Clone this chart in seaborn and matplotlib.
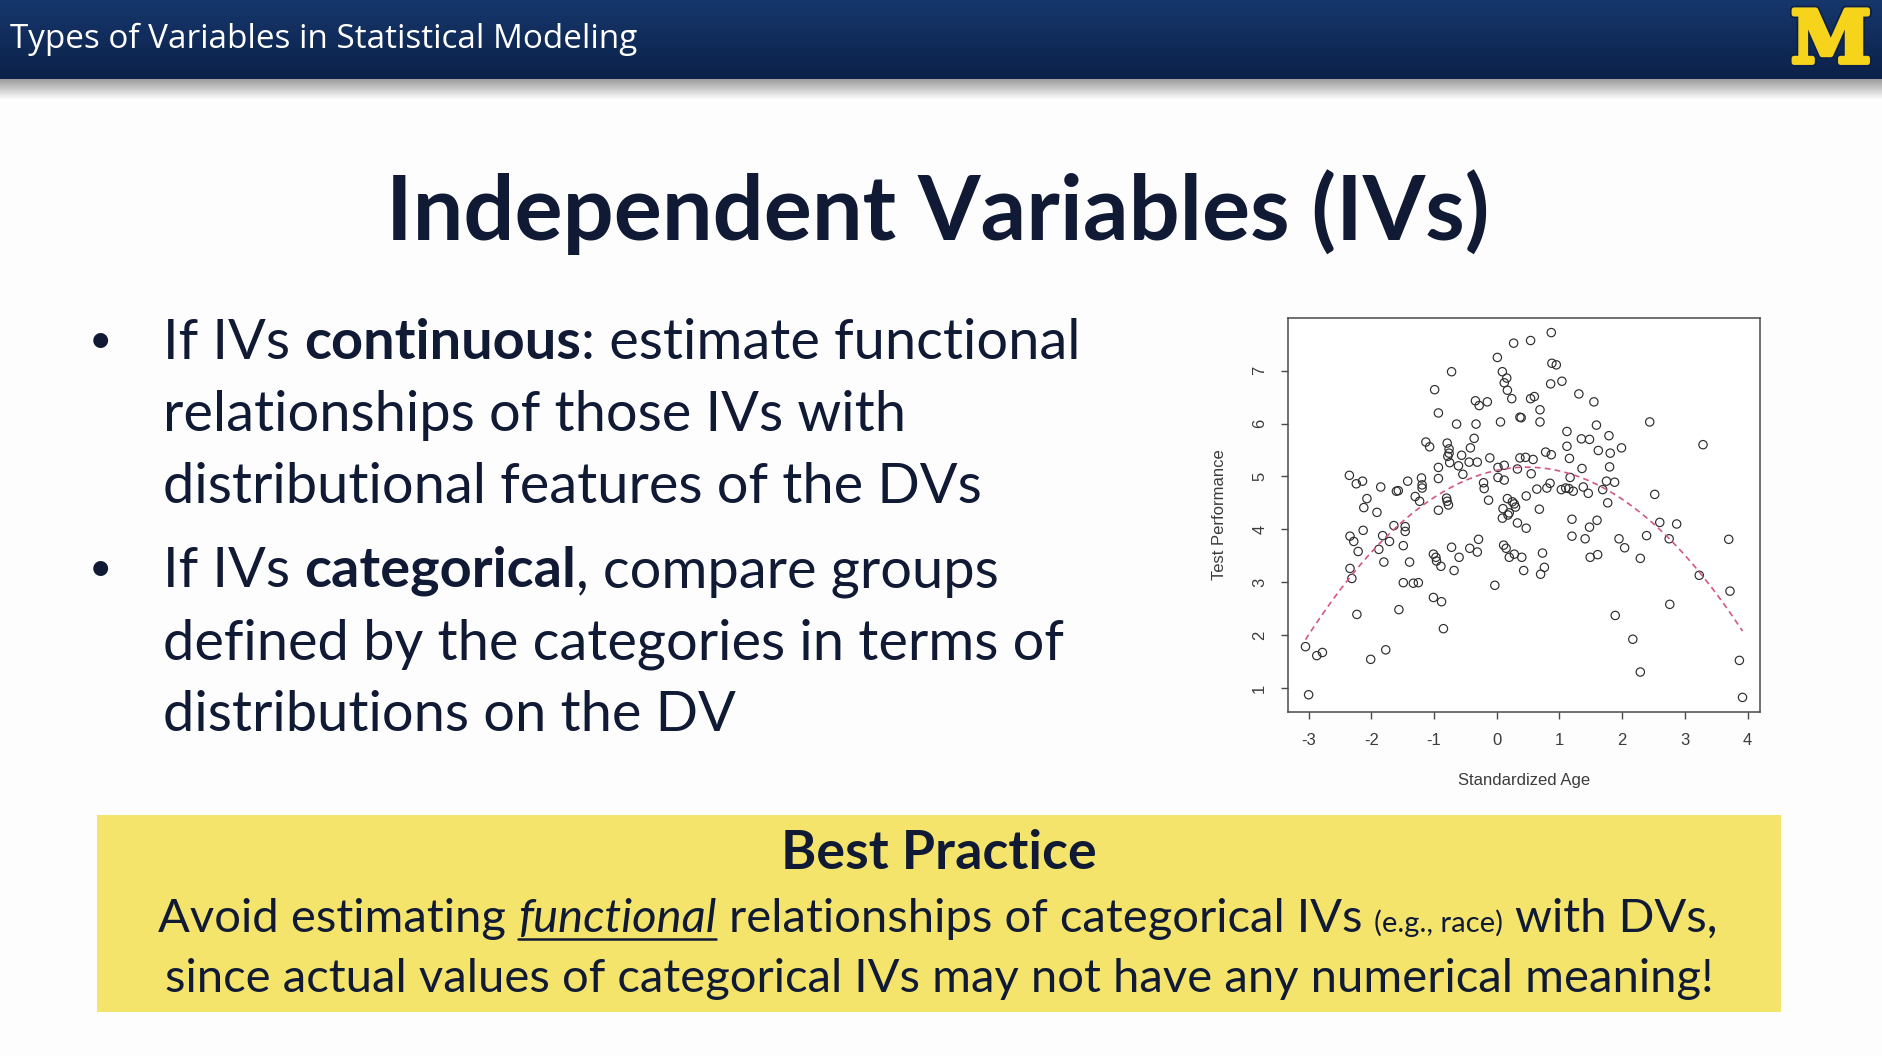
import numpy as np
import pandas as pd
import matplotlib
matplotlib.use("Agg")
import matplotlib.pyplot as plt
import matplotlib.patheffects as pe
from matplotlib.colors import to_rgb
from matplotlib.patches import Rectangle
import seaborn as sns

# 산점도 값
age = [-3.05, -3.00, -2.87, -2.78, -2.35, -2.34, -2.34, -2.31, -2.28, -2.24,
       -2.23, -2.21, -2.14, -2.13, -2.12, -2.07, -2.01, -1.91, -1.88, -1.85,
       -1.82, -1.80, -1.77, -1.71, -1.64, -1.60, -1.57, -1.56, -1.49, -1.49,
       -1.46, -1.46, -1.42, -1.39, -1.33, -1.30, -1.25, -1.23, -1.20, -1.19,
       -1.19, -1.13, -1.07, -1.01, -1.01, -0.99, -0.97, -0.96, -0.93, -0.93,
       -0.93, -0.93, -0.89, -0.88, -0.85, -0.80, -0.79, -0.79, -0.78, -0.77,
       -0.76, -0.76, -0.75, -0.72, -0.72, -0.68, -0.64, -0.61, -0.60, -0.56,
       -0.54, -0.44, -0.43, -0.42, -0.36, -0.34, -0.33, -0.31, -0.31, -0.29,
       -0.28, -0.21, -0.20, -0.15, -0.13, -0.11, -0.03, 0.01, 0.02, 0.02,
       0.06, 0.09, 0.09, 0.10, 0.11, 0.12, 0.12, 0.12, 0.15, 0.16,
       0.17, 0.17, 0.18, 0.20, 0.20, 0.24, 0.25, 0.27, 0.28, 0.28,
       0.30, 0.33, 0.33, 0.37, 0.39, 0.37, 0.40, 0.43, 0.46, 0.47,
       0.47, 0.54, 0.54, 0.55, 0.58, 0.60, 0.64, 0.68, 0.69, 0.69,
       0.70, 0.73, 0.76, 0.78, 0.80, 0.85, 0.86, 0.87, 0.87, 0.88,
       0.95, 1.04, 1.03, 1.10, 1.12, 1.12, 1.15, 1.16, 1.17, 1.20,
       1.20, 1.22, 1.31, 1.35, 1.36, 1.38, 1.41, 1.46, 1.48, 1.48,
       1.49, 1.55, 1.59, 1.60, 1.61, 1.62, 1.69, 1.75, 1.77, 1.79,
       1.80, 1.81, 1.88, 1.89, 1.95, 1.99, 2.04, 2.17, 2.29, 2.29,
       2.39, 2.44, 2.52, 2.60, 2.75, 2.76, 2.87, 3.23, 3.29, 3.70,
       3.72, 3.87, 3.92]
perf = [1.78, 0.87, 1.61, 1.67, 5.02, 3.87, 3.26, 3.07, 3.77, 4.86,
        2.39, 3.58, 4.91, 3.98, 4.41, 4.58, 1.54, 4.32, 3.62, 4.80,
        3.88, 3.38, 1.72, 3.77, 4.07, 4.72, 4.73, 2.48, 3.69, 2.99,
        4.05, 3.96, 4.91, 3.38, 2.98, 4.62, 2.99, 4.53, 4.97, 4.84,
        4.78, 5.65, 5.56, 3.53, 2.71, 6.64, 3.47, 3.40, 6.20, 5.17,
        4.96, 4.36, 3.30, 2.63, 2.12, 4.59, 5.63, 4.53, 5.38, 4.46,
        5.52, 5.44, 5.26, 6.98, 3.66, 3.22, 5.99, 5.20, 3.47, 5.40,
        5.04, 5.27, 3.64, 5.54, 5.72, 6.43, 5.99, 5.27, 3.57, 3.81,
        6.34, 4.88, 4.77, 6.41, 4.55, 5.35, 2.94, 7.25, 5.17, 4.98,
        6.03, 6.98, 4.21, 4.39, 3.70, 6.77, 5.21, 4.93, 3.64, 6.86,
        6.63, 4.58, 4.27, 4.31, 3.47, 6.47, 4.52, 7.52, 4.48, 3.53,
        4.42, 4.12, 5.14, 6.12, 6.11, 5.35, 3.47, 3.22, 5.36, 4.63,
        4.02, 7.57, 6.47, 5.05, 5.32, 6.51, 4.76, 4.38, 6.26, 6.03,
        3.15, 3.55, 3.28, 5.46, 4.78, 4.87, 6.75, 5.41, 7.72, 7.14,
        7.11, 6.80, 4.75, 4.78, 5.85, 5.57, 4.77, 5.34, 4.98, 4.19,
        3.87, 4.72, 6.56, 5.71, 5.15, 4.80, 3.82, 4.68, 4.04, 5.70,
        3.47, 6.41, 5.97, 4.17, 3.52, 5.49, 4.75, 4.91, 4.50, 5.77,
        5.18, 5.44, 4.89, 2.37, 3.82, 5.54, 3.65, 1.92, 3.45, 1.30,
        3.88, 6.03, 4.66, 4.13, 3.82, 2.58, 4.10, 3.13, 5.60, 3.81,
        2.83, 1.52, 0.82]
x_ticks = [-3, -2, -1, 0, 1, 2, 3, 4]
y_ticks = [1, 2, 3, 4, 5, 6, 7]

# 슬라이드 텍스트
header_text = "Types of Variables in Statistical Modeling"
title_text = "Independent Variables (IVs)"
bullet1 = [
    [("If IVs ", {}), ("continuous", {"weight": "bold"}), (": estimate functional", {})],
    [("relationships of those IVs with", {})],
    [("distributional features of the DVs", {})],
]
bullet2 = [
    [("If IVs ", {}), ("categorical", {"weight": "bold"}), (", compare groups", {})],
    [("defined by the categories in terms of", {})],
    [("distributions on the DV", {})],
]
box_title = [("Best Practice", {"weight": "bold"})]
box_line1 = [("Avoid estimating ", {}), ("functional", {"style": "italic", "underline": True}),
             (" relationships of categorical IVs ", {}), ("(e.g., race)", {"scale": 0.62}),
             (" with DVs,", {})]
box_line2 = [("since actual values of categorical IVs may not have any numerical meaning!", {})]

W, H = 1883, 1056
TXT = "#101a35"
sns.set_theme(style="ticks")
plt.rcParams["font.family"] = ["Lato", "DejaVu Sans"]

fig = plt.figure(figsize=(W / 100, H / 100), dpi=100)
fig.patch.set_facecolor("#fdfdfd")
bg = fig.add_axes([0, 0, 1, 1])
bg.set_xlim(0, W)
bg.set_ylim(H, 0)
bg.axis("off")
R = fig.canvas.get_renderer()

# 상단 배너
top_c, bot_c = np.array(to_rgb("#16376c")), np.array(to_rgb("#0b2149"))
t = np.linspace(0, 1, 80)[:, None, None]
bg.imshow(top_c + (bot_c - top_c) * t, extent=[0, W, 79, 0], aspect="auto", zorder=1)
shadow = np.zeros((30, 1, 4))
shadow[..., 3] = np.linspace(0.38, 0, 30)[:, None]
bg.imshow(shadow, extent=[0, W, 100, 79], aspect="auto", zorder=1)
bg.set_xlim(0, W)
bg.set_ylim(H, 0)


def kw_of(o, size):
    return dict(fontsize=size * o.get("scale", 1), fontweight=o.get("weight", "normal"),
                fontstyle=o.get("style", "normal"), fontfamily=o.get("family", ["Lato", "DejaVu Sans"]))


def text_w(s, **kw):
    tt = bg.text(0, 0, "|" + s + "|", **kw)
    w1 = tt.get_window_extent(renderer=R).width
    tt.set_text("||")
    w2 = tt.get_window_extent(renderer=R).width
    tt.remove()
    return w1 - w2


def line_w(runs, size):
    return sum(text_w(s, **kw_of(o, size)) for s, o in runs)


def fit(runs, target, base=40.0):
    return base * target / line_w(runs, base)


def draw(runs, x, y, size, color=TXT, center=False):
    if center:
        x = x - line_w(runs, size) / 2
    for s, o in runs:
        kw = kw_of(o, size)
        lead = s[:len(s) - len(s.lstrip())]
        if lead:
            x += text_w(lead, **kw)
            s = s.lstrip()
        w = text_w(s, **kw)
        bg.text(x, y, s, ha="left", va="baseline", color=color, zorder=5, **kw)
        if o.get("underline"):
            bg.plot([x, x + w], [y + 7, y + 7], color=color, lw=1.8, zorder=5)
        x += w


hdr = [(header_text, {"family": ["Open Sans", "DejaVu Sans"]})]
draw(hdr, 10, 48, fit(hdr, 626), color="white")
# 미시간 로고 (블록 M)
bg.text(1831, 42, "M", fontfamily="DejaVu Serif", fontweight="bold", fontsize=52,
        color="#f6d41c", ha="center", va="center", zorder=5,
        path_effects=[pe.Stroke(linewidth=6, foreground="#0b2149"),
                      pe.Stroke(linewidth=3.5, foreground="#f6d41c"), pe.Normal()])

# 제목
ttl = [(title_text, {"weight": "bold"})]
draw(ttl, 938, 240, fit(ttl, 1102), center=True)

# 본문 글머리표
bsize = np.median([fit(bullet1[0], 925), fit(bullet1[1], 734), fit(bullet2[0], 861), fit(bullet2[1], 893)])
for block, y0 in [(bullet1, 359), (bullet2, 587)]:
    bg.text(100, y0 - 6, "\u2022", fontsize=bsize * 0.72, ha="center", va="baseline", color=TXT)
    for i, runs in enumerate(block):
        draw(runs, 163, y0 + 72 * i, bsize)

# 노란 박스
bg.add_patch(Rectangle((97, 815), 1684, 197, facecolor="#f4e46c", edgecolor="none", zorder=2))
ysize = np.mean([fit(box_line1, 1569), fit(box_line2, 1530)])
draw(box_title, 939, 869, fit(box_title, 315), center=True)
draw(box_line1, 938, 932, ysize, center=True)
draw(box_line2, 939, 992, ysize, center=True)

# 산점도
df = pd.DataFrame({"age": age, "perf": perf})
ax = fig.add_axes([1288 / W, 1 - 712 / H, (1760 - 1288) / W, (712 - 318) / H])
ax.set_facecolor("white")
sns.scatterplot(data=df, x="age", y="perf", ax=ax, marker="o", s=36,
                facecolor="none", edgecolor="#2d2d2d", linewidth=0.85)
sns.regplot(data=df, x="age", y="perf", ax=ax, order=2, ci=None, scatter=False,
            line_kws=dict(color="#d2587f", lw=1.2, ls=(0, (3.5, 2.5))))
xr = df["age"].max() - df["age"].min()
yr = df["perf"].max() - df["perf"].min()
ax.set_xlim(df["age"].min() - 0.04 * xr, df["age"].max() + 0.04 * xr)
ax.set_ylim(df["perf"].min() - 0.04 * yr, df["perf"].max() + 0.04 * yr)
ax.set_xticks(x_ticks)
ax.set_yticks(y_ticks)
ax.set_xticklabels([str(v) for v in x_ticks])
ax.set_yticklabels([str(v) for v in y_ticks], rotation=90, va="center")
lab_font = ["Liberation Sans", "DejaVu Sans"]
for lab in ax.get_xticklabels() + ax.get_yticklabels():
    lab.set_fontfamily(lab_font)
ax.tick_params(direction="out", length=5, width=1, color="#4a4a4a", pad=10,
               labelsize=12, labelcolor="#3c3c3c", bottom=True, left=True)
for sp in ax.spines.values():
    sp.set_visible(True)
    sp.set_color("#4a4a4a")
    sp.set_linewidth(1.1)
ax.set_xlabel("Standardized Age", fontsize=12, color="#3c3c3c", family=lab_font, labelpad=18)
ax.set_ylabel("Test Performance", fontsize=12, color="#3c3c3c", family=lab_font, labelpad=18)

fig.savefig("out.png", dpi=100)
